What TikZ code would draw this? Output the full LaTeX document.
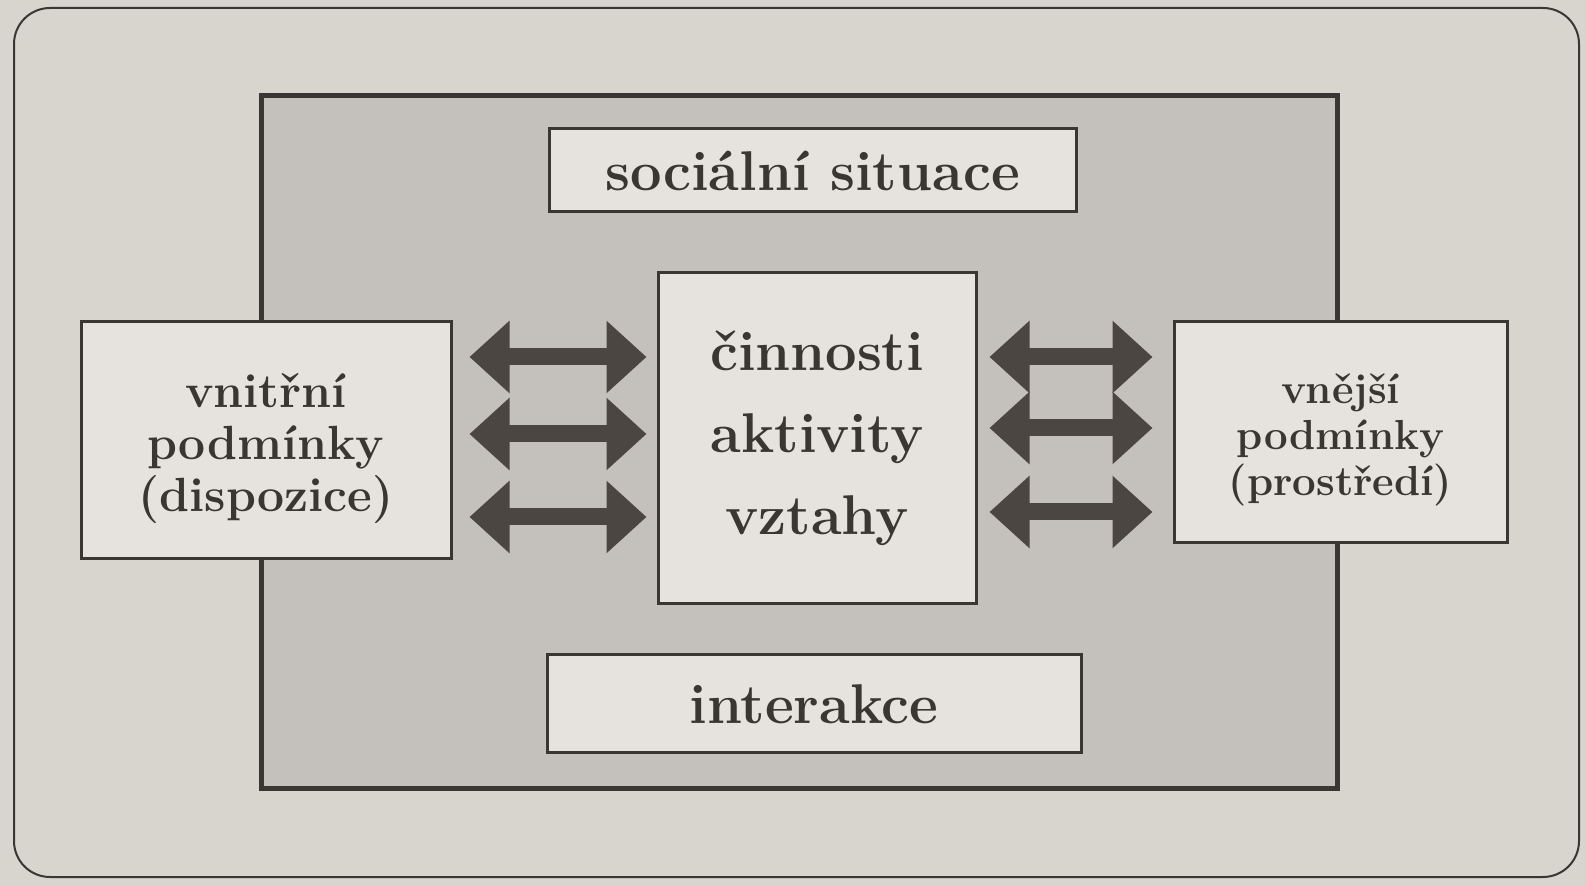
\documentclass[tikz,border=0pt]{standalone}
\usepackage{fontspec}
\usetikzlibrary{arrows.meta}

\definecolor{paper}{RGB}{216,212,206}
\definecolor{dotfield}{RGB}{196,192,187}
\definecolor{boxfill}{RGB}{230,227,222}
\definecolor{ink}{RGB}{58,54,52}
\definecolor{arrowink}{RGB}{76,70,66}

\tikzset{
  plainbox/.style={draw=ink, line width=1.5pt, fill=boxfill, text=ink, align=center, inner sep=0pt},
  bigtext/.style={font=\fontsize{28}{41}\selectfont\bfseries},
  sidetext/.style={font=\fontsize{24}{26}\selectfont\bfseries},
  smalltext/.style={font=\fontsize{21}{23}\selectfont\bfseries},
  duo/.style={draw=arrowink, line width=8.5pt,
    {Triangle[width=35pt,length=20pt]}-{Triangle[width=35pt,length=20pt]}}
}

\begin{document}
\begin{tikzpicture}[x=0.5pt,y=0.5pt,yscale=-1,xscale=1]
\useasboundingbox (0,0) rectangle (1585,886);
\fill[paper] (0,0) rectangle (1585,886);

% page frame and shaded field
\draw[ink, line width=1pt, rounded corners=18pt] (14,8) rectangle (1579,877);
\draw[ink, line width=2.5pt, fill=dotfield] (261,96) rectangle (1337,789);

% boxes
\node[plainbox, bigtext, minimum width=263.5pt, minimum height=41.5pt] (situace) at (812.5,170.5) {soci\'aln\'i situace};
\node[plainbox, bigtext, minimum width=267pt, minimum height=49pt] (interakce) at (814,704) {interakce};
\node[plainbox, bigtext, minimum width=159pt, minimum height=165.5pt] (cinnosti) at (817,438.5) {\v{c}innosti\\aktivity\\vztahy};
\node[plainbox, minimum width=185pt, minimum height=118.5pt] (vnitrni) at (266,440.5) {};
\node[sidetext, text=ink, align=center] (vnitrnitext) at ([yshift=4pt]vnitrni.center) {vnit\v{r}n\'i\\podm\'inky\\(dispozice)};
\node[plainbox, minimum width=166.5pt, minimum height=110.5pt] (vnejsi) at (1340.5,432.5) {};
\node[smalltext, text=ink, align=center] (vnejsitext) at ([yshift=3.5pt]vnejsi.center) {vn\v{e}j\v{s}\'i\\podm\'inky\\(prost\v{r}ed\'i)};

% double arrows, left (yshift is flipped by yscale=-1)
\draw[duo, shorten <=8.5pt, shorten >=5pt] ([yshift=-41.75pt]vnitrni.east) -- ([yshift=-41.75pt]vnitrni.east -| cinnosti.west);
\draw[duo, shorten <=8.5pt, shorten >=5pt] ([yshift=-3.25pt]vnitrni.east) -- ([yshift=-3.25pt]vnitrni.east -| cinnosti.west);
\draw[duo, shorten <=8.5pt, shorten >=5pt] ([yshift=38.25pt]vnitrni.east) -- ([yshift=38.25pt]vnitrni.east -| cinnosti.west);

% double arrows, right
\draw[duo, shorten <=6pt, shorten >=10pt] ([yshift=-37.75pt]vnejsi.west -| cinnosti.east) -- ([yshift=-37.75pt]vnejsi.west);
\draw[duo, shorten <=6pt, shorten >=10pt] ([yshift=-2.25pt]vnejsi.west -| cinnosti.east) -- ([yshift=-2.25pt]vnejsi.west);
\draw[duo, shorten <=6pt, shorten >=10pt] ([yshift=39.75pt]vnejsi.west -| cinnosti.east) -- ([yshift=39.75pt]vnejsi.west);
\end{tikzpicture}
\end{document}
